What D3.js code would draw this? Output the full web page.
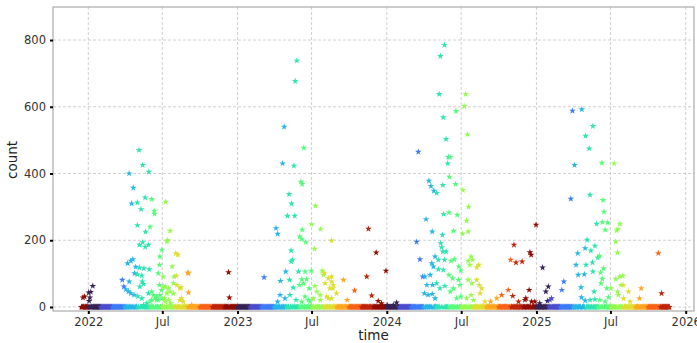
<!DOCTYPE html>
<html>
<head>
<meta charset="utf-8">
<script src="https://cdn.jsdelivr.net/npm/d3@7"></script>
<style>
body{margin:0;background:#fff}
svg{display:block;font-family:"DejaVu Sans",sans-serif}
</style>
</head>
<body>
<svg width="697" height="343"></svg>
<script>
// daily record, days not listed below are 0
const recordStart = "2021-12-15", recordEnd = "2025-11-22";

// [day of year (0 = Jan 1), count] of the non-zero days
const obs2021 = [[352,28],[356,31]];
const obs2022 = [[1,43],[2,18],[4,28],[6,45],[11,63],
[83,81],[87,61],[92,53],[98,46],[104,41],[112,36],[121,32],[131,26],[96,131],[104,138],[109,143],[116,120],
[125,118],[136,116],[149,113],[131,94],[120,98],[113,101],[100,76],[126,61],[135,69],[132,76],
[100,400],[110,357],[106,310],[120,313],[124,470],[133,425],[148,405],[139,328],[155,323],[129,293],[161,288],
[162,279],[120,245],[151,240],[140,225],[125,186],[133,194],[139,180],[147,186],[180,171],[189,315],[200,228],
[194,200],[192,196],[214,161],[219,156],[205,121],[215,93],[210,91],[245,101],[245,43],[227,59],[208,71],
[183,91],[174,126],[175,151],[174,66],[188,61],[184,61],[196,56],[200,46],[192,41],[208,41],[228,26],[224,21],
[232,16],[253,6],[147,41],[155,46],[159,36],[163,26],[167,31],[171,21],[180,26],[188,16],[196,21],[151,16],
[143,11],[135,6],[343,104],[345,28],[243,103],[224,56],[226,21],[171,101],[179,51],[217,66],[155,21],[167,21],
[175,36],[186,26],[201,11]];
const obs2023 = [[65,89],[94,236],[98,219],[98,16],[104,36],[105,78],[110,430],[114,540],[116,26],[118,106],
[122,273],[126,338],[127,81],[128,36],[131,169],[131,136],[132,310],[134,141],[136,58],[138,423],[140,273],
[141,677],[143,21],[145,738],[149,106],[151,66],[152,211],[155,375],[157,83],[157,16],[157,203],[158,368],
[158,231],[161,71],[162,477],[165,106],[165,31],[167,194],[169,83],[173,21],[175,56],[177,16],[180,108],
[181,248],[185,26],[188,174],[189,63],[190,303],[194,46],[202,21],[202,36],[203,233],[207,108],[210,96],
[212,101],[214,71],[218,31],[222,86],[222,26],[226,56],[230,199],[230,91],[230,76],[230,26],[233,56],[234,66],
[242,41],[259,81],[268,21],[286,49],[316,91],[320,234],[328,34],[339,163],[344,18],[352,11],[363,108]];
const obs2024 = [[1,6],[16,6],[24,13],[73,195],[77,465],[81,143],[88,91],[92,41],[93,91],[96,263],[98,66],
[101,36],[103,378],[106,96],[108,362],[110,131],[111,226],[111,39],[112,66],[114,121],[115,348],[118,151],
[118,26],[122,341],[122,71],[126,141],[126,113],[128,638],[130,56],[131,752],[132,191],[134,179],[136,216],
[137,365],[137,166],[138,568],[138,111],[139,278],[141,785],[141,141],[142,63],[145,503],[145,166],[149,430],
[151,449],[152,283],[152,96],[153,390],[155,449],[155,46],[157,138],[161,86],[163,228],[163,56],[165,143],
[168,368],[169,587],[171,26],[172,276],[175,81],[176,121],[179,66],[181,109],[181,31],[185,219],[186,350],
[189,602],[193,638],[195,258],[195,26],[197,517],[199,226],[199,138],[199,81],[200,300],[203,126],[206,151],
[206,36],[208,71],[210,141],[212,21],[220,119],[220,81],[225,126],[226,66],[228,41],[232,56],[240,16],[254,16],
[269,26],[281,36],[297,51],[303,141],[308,33],[311,186],[316,133],[322,16],[331,136],[338,21],[340,26],
[348,51],[350,164],[353,156],[354,16],[362,16],[365,246]];
const obs2025 = [[8,11],[15,118],[23,46],[27,18],[29,61],[33,21],[37,26],[62,51],[67,76],[84,324],[88,588],
[93,425],[97,126],[101,161],[102,96],[109,59],[110,29],[111,592],[117,98],[119,176],[119,19],[120,513],
[121,126],[124,201],[129,475],[131,336],[131,21],[133,169],[137,133],[138,542],[138,106],[141,46],[143,183],
[143,23],[147,249],[150,148],[154,153],[155,21],[157,103],[158,71],[160,432],[161,254],[161,84],[163,320],
[164,116],[165,285],[168,231],[168,16],[172,56],[174,253],[176,29],[182,56],[190,430],[194,196],[194,84],
[196,229],[198,163],[198,46],[199,233],[200,36],[204,249],[204,91],[207,66],[211,93],[212,66],[213,26],
[225,46],[229,16],[252,26],[256,56],[298,161],[306,41]];

const yTicks = [0,200,400,600,800];
const xTicks = ["2022-01-01","2022-07-01","2023-01-01","2023-07-01","2024-01-01","2024-07-01","2025-01-01","2025-07-01","2026-01-01"];

const parse = d3.utcParse("%Y-%m-%d");
const years = {2021:obs2021,2022:obs2022,2023:obs2023,2024:obs2024,2025:obs2025};

let nonzero = [];
for (const yr in years) {
  const jan1 = new Date(Date.UTC(+yr,0,1));
  years[yr].forEach(d => nonzero.push({date:d3.utcDay.offset(jan1,d[0]), count:d[1]}));
}
const seen = new Set(nonzero.map(d => +d.date));
const zeros = d3.utcDay.range(parse(recordStart), d3.utcDay.offset(parse(recordEnd),1))
  .filter(d => !seen.has(+d)).map(d => ({date:d, count:0}));
const data = zeros.concat(nonzero.sort((a,b)=>a.date-b.date));

const L=53, R=694, T=7, B=311;
const x = d3.scaleUtc().domain([parse("2022-01-01"), parse("2026-01-01")]).range([88.3, 685.7]);
const y = d3.scaleLinear().domain([-12, 899]).range([B, T]);
// colour by month of the year (turbo)
const monthPos = d3.scaleLinear().domain([0, 2, 4, 6, 11]).range([0.02, 0.15, 0.33, 0.5, 0.99]);
const color = m => d3.interpolateTurbo(monthPos(m));

const svg = d3.select("svg");
svg.append("clipPath").attr("id","clip").append("rect")
  .attr("x",L).attr("y",T).attr("width",R-L).attr("height",B-T);

// grid
const grid = svg.append("g").attr("stroke","#c4c4c4").attr("stroke-width",0.8).attr("stroke-dasharray","3,2");
grid.selectAll(".gy").data(yTicks).join("line")
  .attr("x1",L).attr("x2",R).attr("y1",d=>y(d)).attr("y2",d=>y(d));
grid.selectAll(".gx").data(xTicks.map(parse)).join("line")
  .attr("y1",T).attr("y2",B).attr("x1",d=>x(d)).attr("x2",d=>x(d));

// points
const star = d3.symbol().type(d3.symbolStar).size(14);
svg.append("g").attr("clip-path","url(#clip)")
  .selectAll("path").data(data).join("path")
  .attr("d", star)
  .attr("transform", d => `translate(${x(d.date)},${y(d.count)})`)
  .attr("fill", d => color(d.date.getUTCMonth()));

// frame
svg.append("rect").attr("x",L).attr("y",T).attr("width",R-L).attr("height",B-T)
  .attr("fill","none").attr("stroke","#9a9a9a").attr("stroke-width",1);

// axes
const fmt = d => d.getUTCMonth()===0 ? String(d.getUTCFullYear()) : "Jul";
const gx = svg.append("g").attr("transform",`translate(0,${B})`)
  .call(d3.axisBottom(x).tickValues(xTicks.map(parse)).tickFormat(fmt).tickSize(3).tickPadding(4));
const gy = svg.append("g").attr("transform",`translate(${L},0)`)
  .call(d3.axisLeft(y).tickValues(yTicks).tickSize(3).tickPadding(4));
[gx,gy].forEach(g => {
  g.select(".domain").remove();
  g.selectAll(".tick line").attr("stroke","#000").attr("stroke-width",2);
  g.selectAll(".tick text").attr("fill","#333").attr("font-size",11.5).attr("font-family","DejaVu Sans, sans-serif");
});

svg.append("text").attr("x",(L+R)/2).attr("y",340).attr("text-anchor","middle")
  .attr("font-size",13.5).attr("fill","#222").text("time");
svg.append("text").attr("transform","translate(17,160) rotate(-90)").attr("text-anchor","middle")
  .attr("font-size",13.5).attr("fill","#222").text("count");
</script>
</body>
</html>
